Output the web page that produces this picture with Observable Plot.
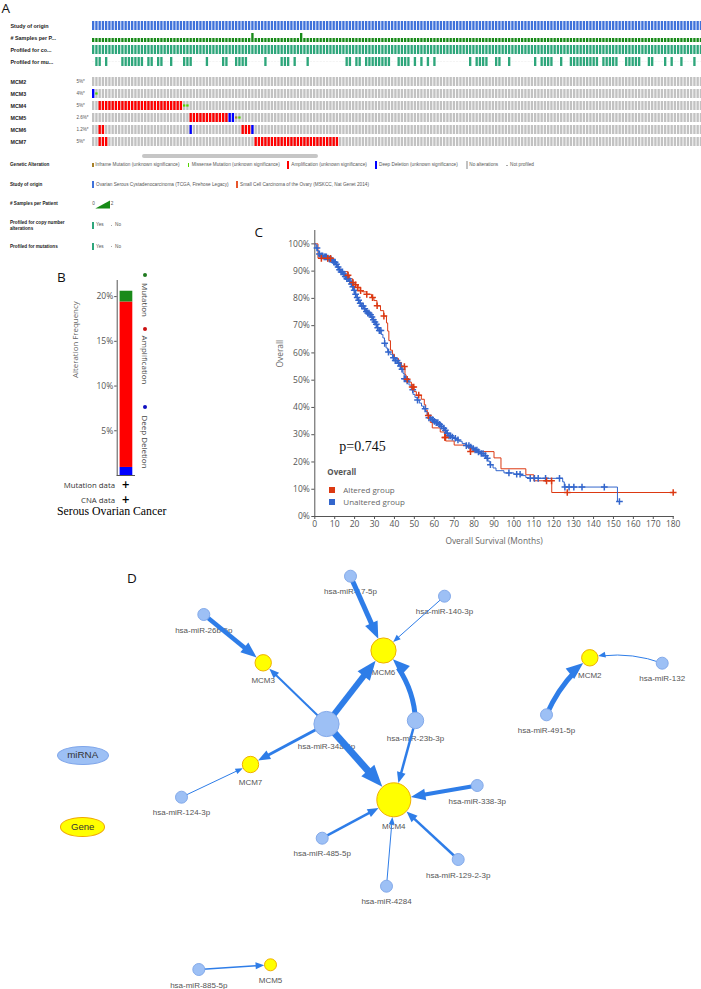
<!DOCTYPE html>
<html>
<head>
<meta charset="utf-8">
<script src="https://cdn.jsdelivr.net/npm/d3@7"></script>
<script src="https://cdn.jsdelivr.net/npm/@observablehq/plot@0.6"></script>
<style>
html,body{margin:0;padding:0;background:#fff;}
#fig{position:relative;width:701px;height:989px;overflow:hidden;background:#fff;}
#fig .pl{position:absolute;}
#fig .pl svg{display:block;max-width:none !important;}
</style>
</head>
<body>
<div id="fig"></div>
<script>
// ===================== DATA =====================
// Panel A – OncoPrint
const oncoTracks = ["Study of origin", "# Samples per P...", "Profiled for co...", "Profiled for mu..."];
const oncoGenes = ["MCM2", "MCM3", "MCM4", "MCM5", "MCM6", "MCM7"];
const oncoGenePct = ["5%*", "4%*", "5%*", "2.6%*", "1.2%*", "5%*"];
const visibleSamples = 188;
const twoSamplePatients = [49, 64];
const mutProfiledFrom = [1, 4, 9, 17, 20, 24, 28, 35, 40, 44, 53, 58, 62, 66, 78, 81, 84, 94, 99, 101, 103, 105, 116, 118, 124, 128, 136, 138, 144, 147, 157, 164, 171, 176, 178, 181, 185];
const mutProfiledTo   = [2, 4, 15, 18, 21, 24, 30, 35, 41, 47, 53, 60, 62, 66, 79, 82, 91, 97, 99, 101, 103, 105, 116, 121, 125, 128, 136, 141, 144, 155, 161, 168, 172, 176, 178, 181, 185];
const altGene = ["MCM3", "MCM3", "MCM4", "MCM4", "MCM5", "MCM5", "MCM5", "MCM5", "MCM6", "MCM6", "MCM6", "MCM6", "MCM7", "MCM7"];
const altType = ["Deep Deletion", "Missense Mutation", "Amplification", "Missense Mutation", "Amplification", "Deep Deletion", "Inframe Mutation", "Missense Mutation", "Amplification", "Deep Deletion", "Amplification", "Deep Deletion", "Amplification", "Amplification"];
const altFrom = [0, 1, 2, 28, 30, 42, 44, 45, 2, 30, 46, 49, 2, 50];
const altTo   = [0, 1, 27, 29, 41, 43, 44, 45, 3, 30, 48, 49, 4, 75];
const alterationLegend = ["Inframe Mutation (unknown significance)", "Missense Mutation (unknown significance)", "Amplification (unknown significance)", "Deep Deletion (unknown significance)", "No alterations", "Not profiled"];
const studyLegend = ["Ovarian Serous Cystadenocarcinoma (TCGA, Firehose Legacy)", "Small Cell Carcinoma of the Ovary (MSKCC, Nat Genet 2014)"];

// Panel B – alteration frequency
const cancerType = "Serous Ovarian Cancer";
const bAlterations = ["Deep Deletion", "Amplification", "Mutation"];
const bFrequency = [0.9, 18.5, 1.2];
const bTicks = [5, 10, 15, 20];

// Panel C – Kaplan–Meier (months, survival)
const kmXTicks = [0, 10, 20, 30, 40, 50, 60, 70, 80, 90, 100, 110, 120, 130, 140, 150, 160, 170, 180];
const kmYTicks = [0, 0.1, 0.2, 0.3, 0.4, 0.5, 0.6, 0.7, 0.8, 0.9, 1.0];
const alteredKM = [[0,1],[1.6,0.947],[8.7,0.938],[10,0.93],[11,0.918],[12,0.908],[12.9,0.898],[16.6,0.885],[17.5,0.872],[19,0.858],[20.3,0.85],[21.6,0.84],[22.8,0.828],[24,0.824],[26,0.815],[28.5,0.803],[29.7,0.792],[31.2,0.773],[33,0.755],[34.6,0.735],[36,0.71],[36.6,0.68],[37.2,0.645],[38,0.61],[39,0.595],[40,0.58],[42,0.565],[43.5,0.55],[45.3,0.52],[45.8,0.503],[47,0.493],[48.5,0.475],[49.8,0.458],[51,0.445],[53.5,0.43],[55,0.41],[55.7,0.39],[56.5,0.37],[58,0.345],[59,0.325],[63,0.31],[65.2,0.29],[65.7,0.277],[70,0.262],[76.5,0.255],[78,0.238],[90,0.215],[93.5,0.175],[106,0.153],[110,0.131],[119,0.088],[180,0.088]];
const unalteredKM = [[0,1],[0.6,0.985],[1.2,0.975],[2,0.963],[3,0.956],[4.5,0.952],[6,0.948],[7.2,0.944],[8.3,0.939],[9.3,0.933],[10.3,0.925],[11.2,0.915],[12,0.905],[13,0.897],[14,0.889],[15,0.88],[16,0.872],[17,0.863],[18,0.853],[18.8,0.843],[19.4,0.83],[20,0.815],[20.8,0.803],[21.7,0.793],[22.6,0.782],[23.5,0.772],[24.5,0.762],[25.4,0.752],[26.3,0.746],[27.3,0.74],[28.2,0.732],[29,0.722],[29.8,0.713],[30.6,0.705],[31.4,0.692],[32.3,0.682],[33.3,0.668],[34.2,0.655],[35,0.635],[35.8,0.618],[36.6,0.603],[37.8,0.595],[39,0.582],[40.3,0.572],[41.5,0.562],[42.6,0.552],[43.5,0.54],[44.3,0.525],[44.9,0.505],[46,0.497],[47.3,0.482],[48.5,0.465],[49.3,0.448],[50.3,0.437],[51.4,0.427],[52.5,0.416],[53.6,0.405],[54.6,0.395],[55.6,0.385],[56.4,0.372],[57.3,0.362],[58.4,0.355],[59.6,0.349],[60.8,0.344],[62,0.338],[63.3,0.331],[64.4,0.324],[65.3,0.316],[66.2,0.305],[67.3,0.296],[68.4,0.291],[69.6,0.287],[71,0.281],[72.5,0.276],[74,0.268],[75.8,0.26],[77.5,0.255],[79,0.249],[80.5,0.244],[82,0.237],[83.5,0.231],[85,0.223],[86,0.214],[87,0.203],[88,0.19],[89.5,0.178],[91,0.168],[95,0.16],[100,0.155],[103.5,0.15],[106,0.143],[107.5,0.14],[124.5,0.127],[125.3,0.108],[152,0.055],[153,0.055]];
const alteredCensor = [3.3, 6.5, 7.9, 16.7, 19.2, 20.5, 21.6, 23, 26.1, 29, 31.3, 34.7, 45, 46.4, 48.9, 49.7, 52.2, 57, 65.3, 65.6, 78.2, 116.4, 118.9, 126.8, 180];
const unalteredCensor = [1.1, 2.3, 3.2, 3.9, 4.7, 5.3, 5.8, 6.6, 7.4, 8.1, 8.9, 9.6, 10.2, 10.9, 11.7, 12.4, 13.2, 13.9, 14.6, 15.3, 16.1, 16.8, 17.6, 18.4, 19.1, 19.8, 20.5, 21.3, 22, 22.8, 23.6, 24.3, 25.1, 25.9, 26.6, 27.2, 28, 28.7, 29.4, 30.2, 30.9, 31.6, 32.4, 33.2, 35.1, 37, 39.5, 40.4, 41.3, 42.1, 43, 43.8, 45, 45.7, 46.4, 49.2, 51.6, 55.4, 57.3, 58.2, 59.2, 60.1, 61, 61.8, 62.7, 63.5, 64.8, 65.6, 66.5, 67.4, 68.2, 69.1, 70.6, 71.9, 76.1, 77.4, 78.3, 79.6, 80.5, 81.4, 82.2, 83.6, 84.5, 85.7, 86.6, 88.2, 97.5, 101.4, 103.1, 108.2, 110.3, 112.2, 115.9, 122.9, 125.6, 127.7, 130.1, 134.2, 145.4, 153];
const kmGroups = ["Altered group", "Unaltered group"];
const pValueText = "p=0.745";

// Panel D – miRNA–gene network
const netNodes = ["hsa-miR-26b-5p", "hsa-miR-17-5p", "hsa-miR-140-3p", "hsa-miR-34a-5p", "hsa-miR-23b-3p", "hsa-miR-124-3p", "hsa-miR-485-5p", "hsa-miR-338-3p", "hsa-miR-129-2-3p", "hsa-miR-4284", "hsa-miR-491-5p", "hsa-miR-132", "hsa-miR-885-5p", "MCM2", "MCM3", "MCM4", "MCM5", "MCM6", "MCM7"];
const netNodeType = ["miRNA", "miRNA", "miRNA", "miRNA", "miRNA", "miRNA", "miRNA", "miRNA", "miRNA", "miRNA", "miRNA", "miRNA", "miRNA", "Gene", "Gene", "Gene", "Gene", "Gene", "Gene"];
// layout coordinates of the network drawing
const netLayoutX = [203.3, 350, 444, 326, 415, 181, 321.7, 476.7, 457.7, 386, 546, 661.7, 198.3, 589.3, 262.7, 393.3, 270, 383, 250];
const netLayoutY = [54, 15.7, 35.7, 163.5, 160, 236.7, 277.7, 225, 299, 325.7, 154.3, 102.7, 409, 97.3, 102.3, 239.3, 404.3, 90, 204];
const edgeSource = ["hsa-miR-26b-5p", "hsa-miR-34a-5p", "hsa-miR-34a-5p", "hsa-miR-34a-5p", "hsa-miR-34a-5p", "hsa-miR-17-5p", "hsa-miR-140-3p", "hsa-miR-23b-3p", "hsa-miR-23b-3p", "hsa-miR-124-3p", "hsa-miR-485-5p", "hsa-miR-338-3p", "hsa-miR-129-2-3p", "hsa-miR-4284", "hsa-miR-491-5p", "hsa-miR-132", "hsa-miR-885-5p"];
const edgeTarget = ["MCM3", "MCM3", "MCM6", "MCM7", "MCM4", "MCM6", "MCM6", "MCM6", "MCM4", "MCM7", "MCM4", "MCM4", "MCM4", "MCM4", "MCM2", "MCM2", "MCM5"];
const edgeWeight = [4.5, 2, 6, 3, 7, 5, 1, 5, 2.5, 1, 2.5, 4, 2.5, 1, 5, 1, 1.5];
const edgeBend = [0, 0, 0, 0, 0, 0, 0, -22, 0, 0, 0, 0, 0, 0, 14, -16, 0];

// ===================== HELPERS =====================
const SANS = '"Liberation Sans", Arial, sans-serif';
const OPEN = '"Open Sans", "Liberation Sans", sans-serif';
const SERIF = '"Liberation Serif", "Times New Roman", serif';
const fig = document.getElementById("fig");

function place(node, left, top, width) {
  const d = document.createElement("div");
  d.className = "pl";
  d.style.left = left + "px";
  d.style.top = top + "px";
  if (width) d.style.width = width + "px";
  d.appendChild(node);
  fig.appendChild(d);
  return d;
}
function addText(s, x, y, o = {}) {
  const d = document.createElement("div");
  d.textContent = s;
  d.style.position = "absolute";
  d.style.left = x + "px";
  d.style.top = y + "px";
  d.style.fontSize = (o.size ?? 8) + "px";
  d.style.lineHeight = "1";
  d.style.whiteSpace = "nowrap";
  d.style.color = o.color ?? "#333";
  d.style.fontFamily = o.family ?? SANS;
  d.style.fontWeight = o.weight ?? "normal";
  const tx = o.anchor === "end" ? "-100%" : o.anchor === "middle" ? "-50%" : "0";
  d.style.transform = `translate(${tx},-50%)` + (o.rotate ? ` rotate(${o.rotate}deg)` : "");
  fig.appendChild(d);
  return d;
}
function addBox(x, y, w, h, color, o = {}) {
  const d = document.createElement("div");
  d.style.cssText = `position:absolute;left:${x}px;top:${y}px;width:${w}px;height:${h}px;background:${color};` + (o.radius ? `border-radius:${o.radius};` : "") + (o.border ? `border:${o.border};box-sizing:border-box;` : "");
  fig.appendChild(d);
  return d;
}

// ===================== PANEL A =====================
const colPitch = 3.25;
const cols = d3.range(visibleSamples);
const xCols = {type: "band", domain: cols, range: [92, 92 + colPitch * (visibleSamples - 0.28)], paddingInner: 0.28, paddingOuter: 0, axis: null};
const mutProfiled = new Set(mutProfiledFrom.flatMap((f, i) => d3.range(f, mutProfiledTo[i] + 1)));
const studyCells = cols.map(c => ({col: c, track: oncoTracks[0]}));
const sampleCells = cols.map(c => ({col: c, track: oncoTracks[1], n: twoSamplePatients.includes(c) ? 2 : 1}));
const cnaCells = cols.map(c => ({col: c, track: oncoTracks[2]}));
const mutCells = cols.map(c => ({col: c, track: oncoTracks[3], profiled: mutProfiled.has(c)}));
const STUDY = "#3f72da", SAMPLES = "#178a17", PROFILED = "#2ea67b";

const plotTracks = Plot.plot({
  width: 701, height: 72,
  marginLeft: 92, marginRight: 0, marginTop: 0, marginBottom: 0,
  x: xCols,
  y: {type: "band", domain: oncoTracks, range: [20, 68], paddingInner: 0.24, paddingOuter: 0, axis: null},
  style: {background: "none", fontFamily: SANS},
  marks: [
    Plot.cell(studyCells, {x: "col", y: "track", fill: STUDY}),
    Plot.cell(sampleCells.filter(d => d.n === 1), {x: "col", y: "track", fill: SAMPLES, insetTop: 5}),
    Plot.cell(sampleCells.filter(d => d.n === 2), {x: "col", y: "track", fill: SAMPLES}),
    Plot.cell(cnaCells, {x: "col", y: "track", fill: PROFILED}),
    Plot.cell(mutCells.filter(d => d.profiled), {x: "col", y: "track", fill: PROFILED}),
    Plot.cell(mutCells.filter(d => !d.profiled), {x: "col", y: "track", fill: "#c8c8c8", insetTop: 4.4, insetBottom: 4.4}),
    Plot.text(oncoTracks, {y: d => d, text: d => d, frameAnchor: "left", dx: -82, textAnchor: "start", fontWeight: "bold", fontSize: 5.4, fill: "#222"})
  ]
});
place(plotTracks, 0, 0, 701);

const geneBase = oncoGenes.flatMap(g => cols.map(c => ({gene: g, col: c})));
const altCells = altGene.flatMap((g, i) => d3.range(altFrom[i], altTo[i] + 1).map(c => ({gene: g, col: c, type: altType[i]})));
const ALT = {"Amplification": "#ff0000", "Deep Deletion": "#0000ff", "Missense Mutation": "#53d400", "Inframe Mutation": "#a68028"};
const fullAlt = altCells.filter(d => d.type === "Amplification" || d.type === "Deep Deletion");
const smallAlt = altCells.filter(d => d.type !== "Amplification" && d.type !== "Deep Deletion");

const plotGenes = Plot.plot({
  width: 701, height: 152,
  marginLeft: 92, marginRight: 0, marginTop: 0, marginBottom: 0,
  x: xCols,
  y: {type: "band", domain: oncoGenes, range: [75, 149], paddingInner: 0.22, paddingOuter: 0, axis: null},
  style: {background: "none", fontFamily: SANS},
  marks: [
    Plot.cell(geneBase, {x: "col", y: "gene", fill: "#c2c2c2"}),
    Plot.cell(fullAlt, {x: "col", y: "gene", fill: d => ALT[d.type]}),
    Plot.cell(smallAlt, {x: "col", y: "gene", fill: d => ALT[d.type], insetTop: 3.4, insetBottom: 3.4}),
    Plot.text(oncoGenes, {y: d => d, text: d => d, frameAnchor: "left", dx: -82, textAnchor: "start", fontWeight: "bold", fontSize: 5.3, fill: "#222"}),
    Plot.text(oncoGenes, {y: d => d, text: (d, i) => oncoGenePct[i], frameAnchor: "left", dx: -16, textAnchor: "start", fontSize: 4.5, fill: "#555"})
  ]
});
place(plotGenes, 0, 0, 701);

// scrollbar
addBox(142, 154, 176, 3.6, "#c6c6c6", {radius: "2px"});

// panel A legend
const LS = 4.7, LC = "#555";
addText("Genetic Alteration", 10, 165, {size: 4.6, weight: "bold", color: "#222"});
addBox(92, 163, 1.6, 4.2, ALT["Inframe Mutation"]);
addText(alterationLegend[0], 95.3, 165, {size: LS, color: LC});
addBox(187.7, 163, 1.6, 4.2, ALT["Missense Mutation"]);
addText(alterationLegend[1], 191.7, 165, {size: LS, color: LC});
addBox(287.3, 161.2, 2, 7.6, ALT["Amplification"]);
addText(alterationLegend[2], 291.3, 165, {size: LS, color: LC});
addBox(375, 161.2, 2, 7.6, ALT["Deep Deletion"]);
addText(alterationLegend[3], 379, 165, {size: LS, color: LC});
addBox(465.7, 161.2, 2, 7.6, "#c2c2c2");
addText(alterationLegend[4], 469.3, 165, {size: LS, color: LC});
addBox(505.5, 164.6, 2, 0.8, "#aaa");
addText(alterationLegend[5], 510, 165, {size: LS, color: LC});

addText("Study of origin", 10, 184.5, {size: 4.6, weight: "bold", color: "#222"});
addBox(92, 181, 2, 7, STUDY);
addText(studyLegend[0], 96, 184.5, {size: LS, color: LC});
addBox(236, 181, 2, 7, "#e8552c");
addText(studyLegend[1], 240, 184.5, {size: LS, color: LC});

addText("# Samples per Patient", 10, 204, {size: 4.6, weight: "bold", color: "#222"});
addText("0", 92.3, 203.5, {size: LS, color: LC});
{
  const s = d3.create("svg").attr("width", 16).attr("height", 10).style("position", "absolute").style("left", "94.5px").style("top", "199.5px");
  s.append("path").attr("d", "M0.3,8.6L15,8.6L15,0.5Z").attr("fill", SAMPLES);
  fig.appendChild(s.node());
}
addText("2", 110.8, 203.5, {size: LS, color: LC});

addText("Profiled for copy number", 10, 222.7, {size: 4.6, weight: "bold", color: "#222"});
addText("alterations", 10, 228.7, {size: 4.6, weight: "bold", color: "#222"});
addBox(92, 221.5, 2, 7, PROFILED);
addText("Yes", 96, 224.8, {size: LS, color: LC});
addBox(110.8, 224.5, 1.6, 0.8, "#aaa");
addText("No", 115, 224.8, {size: LS, color: LC});

addText("Profiled for mutations", 10, 246.7, {size: 4.6, weight: "bold", color: "#222"});
addBox(92, 243.3, 2, 7, PROFILED);
addText("Yes", 96, 246.7, {size: LS, color: LC});
addBox(110.8, 246.4, 1.6, 0.8, "#aaa");
addText("No", 115, 246.7, {size: LS, color: LC});

addText("A", 1.5, 8.5, {size: 13.5, family: OPEN, color: "#111"});

// ===================== PANEL B =====================
const bData = bAlterations.map((t, i) => ({cancer: cancerType, type: t, freq: bFrequency[i]}));
const bColors = ["#0000ff", "#ff0000", "#1a8a1a"];
const plotB = Plot.plot({
  width: 180, height: 270,
  marginLeft: 116.7, marginRight: 45, marginTop: 20, marginBottom: 55,
  x: {type: "band", domain: [cancerType], paddingInner: 0, paddingOuter: 0, axis: null},
  y: {domain: [0, 21.8], ticks: bTicks, tickFormat: d => d + "%", tickSize: 2.5, tickPadding: 1.5, line: true, label: null},
  color: {domain: bAlterations, range: bColors},
  style: {background: "none", fontFamily: OPEN, fontSize: "8.5px", color: "#555"},
  marks: [
    Plot.barY(bData, {x: "cancer", y: "freq", fill: "type", insetLeft: 2.6, insetRight: 2.7}),
    Plot.ruleY([0], {stroke: "#555"}),
    Plot.text(["Alteration Frequency"], {frameAnchor: "left", rotate: -90, dx: -41.7, fontSize: 7.9, fill: "#666", fontFamily: OPEN})
  ]
});
place(plotB, 0, 260, 180);

addText("B", 57, 278, {size: 13.5, family: OPEN, color: "#111"});
const bLegendY = [275, 329.3, 406.7];
const bLegendTextY = [300, 360, 441.5];
const bLegendOrder = ["Mutation", "Amplification", "Deep Deletion"];
const bLegendDot = ["#1f7a1f", "#cc1010", "#1010c0"];
bLegendOrder.forEach((t, i) => {
  addBox(143.3, bLegendY[i] - 2, 4, 4, bLegendDot[i], {radius: "50%"});
  addText(t, 145.3, bLegendTextY[i], {size: 8, family: OPEN, color: "#444", anchor: "middle", rotate: 90});
});
addText("Mutation data", 115, 485.7, {size: 7.8, family: OPEN, color: "#333", anchor: "end"});
addText("CNA data", 115, 500.7, {size: 7.8, family: OPEN, color: "#333", anchor: "end"});
addText("+", 125.8, 485.2, {size: 10, family: '"DejaVu Sans", sans-serif', weight: "bold", color: "#000", anchor: "middle"});
addText("+", 125.8, 500.2, {size: 10, family: '"DejaVu Sans", sans-serif', weight: "bold", color: "#000", anchor: "middle"});
addText(cancerType, 57, 512, {size: 11.8, family: SERIF, color: "#000"});

// ===================== PANEL C =====================
const bisect = d3.bisector(d => d[0]).right;
const survAt = (km, t) => km[Math.max(0, bisect(km, t) - 1)][1];
const RED = "#dc3912", BLUE = "#3366cc";
const alteredMarks = alteredCensor.map(t => [t, survAt(alteredKM, t)]);
const unalteredMarks = unalteredCensor.map(t => [t, survAt(unalteredKM, t)]);
const plotC = Plot.plot({
  width: 451, height: 330,
  marginLeft: 64.3, marginRight: 28.3, marginTop: 5, marginBottom: 39,
  x: {domain: [0, 180], ticks: kmXTicks, tickSize: 3, tickPadding: 1.5, line: true, label: null},
  y: {domain: [0, 1.049], ticks: kmYTicks, tickFormat: d3.format(".0%"), tickSize: 3, tickPadding: 2, line: true, label: null},
  style: {background: "none", fontFamily: OPEN, fontSize: "8.5px", color: "#555"},
  marks: [
    Plot.line(alteredKM, {x: d => d[0], y: d => d[1], curve: "step-after", stroke: RED, strokeWidth: 1}),
    Plot.line(unalteredKM, {x: d => d[0], y: d => d[1], curve: "step-after", stroke: BLUE, strokeWidth: 1}),
    Plot.dot(unalteredMarks, {x: d => d[0], y: d => d[1], symbol: "plus", r: 2.3, stroke: BLUE, strokeWidth: 1.5}),
    Plot.dot(alteredMarks, {x: d => d[0], y: d => d[1], symbol: "plus", r: 2.3, stroke: RED, strokeWidth: 1.5}),
    Plot.text(["Overall Survival (Months)"], {frameAnchor: "bottom", dy: 27.3, fontSize: 8.4, fill: "#666", fontFamily: OPEN}),
    Plot.text(["Overall"], {frameAnchor: "left", rotate: -90, dx: -34.3, dy: -6, fontSize: 8.4, fill: "#666", fontFamily: OPEN})
  ]
});
place(plotC, 250, 225, 451);

addText("C", 254.5, 233, {size: 13.5, family: OPEN, color: "#111"});
addText(pValueText, 339.3, 447.3, {size: 14, family: SERIF, color: "#111"});
addText("Overall", 327.3, 471.7, {size: 8, family: OPEN, weight: "bold", color: "#555"});
addBox(329.3, 487, 6, 6, RED);
addBox(329.3, 499.3, 6, 6, BLUE);
addText(kmGroups[0], 343.3, 490, {size: 8, family: OPEN, color: "#666"});
addText(kmGroups[1], 343.3, 502.3, {size: 8, family: OPEN, color: "#666"});

// ===================== PANEL D =====================
const EDGE = "#2e7de8";
const nodeRadius = d3.scaleLinear([1, 6], [6, 17]);
const idx = new Map(netNodes.map((n, i) => [n, i]));
const degree = netNodes.map(n => edgeSource.filter(s => s === n).length + edgeTarget.filter(t => t === n).length);
const nodeData = netNodes.map((n, i) => ({name: n, type: netNodeType[i], x: netLayoutX[i], y: netLayoutY[i], degree: degree[i], r: nodeRadius(degree[i])}));
const edges = edgeSource.map((s, i) => {
  const a = nodeData[idx.get(s)], b = nodeData[idx.get(edgeTarget[i])];
  const w = edgeWeight[i], bend = edgeBend[i];
  const head = 5 + 2.4 * w;
  const ang = Math.atan2(b.y - a.y, b.x - a.x) + bend * Math.PI / 180;
  const c = Math.cos(ang), sn = Math.sin(ang);
  return {
    x1: a.x, y1: a.y, x2: b.x, y2: b.y, w, bend, head, rT: b.r,
    ex: b.x - c * (b.r + head * 0.6), ey: b.y - sn * (b.r + head * 0.6),
    tx: b.x - c * (b.r + 0.3), ty: b.y - sn * (b.r + 0.3),
    rot: ang * 180 / Math.PI + 90
  };
});
const headShape = {
  draw(ctx, l) {
    ctx.moveTo(0, -l);
    ctx.lineTo(-0.4 * l, 0);
    ctx.lineTo(0.4 * l, 0);
    ctx.closePath();
  }
};
const plotD = Plot.plot({
  width: 701, height: 429, margin: 0,
  x: {domain: [0, 701], range: [0, 701], axis: null},
  y: {domain: [0, 429], range: [0, 429], axis: null},
  r: {type: "linear", domain: [1, 6], range: [6, 17]},
  length: {type: "linear", domain: [0, 40], range: [0, 40]},
  style: {background: "none"},
  marks: [
    Plot.text(nodeData, {x: "x", y: d => d.y + d.r + 9.5, text: "name", fontSize: 8, fill: "#555", fontFamily: SANS}),
    Plot.link(edges.filter(e => !e.bend), {x1: "x1", y1: "y1", x2: "ex", y2: "ey", strokeWidth: "w", stroke: EDGE, strokeLinecap: "butt"}),
    ...edges.filter(e => e.bend).map(e => Plot.arrow([e], {x1: "x1", y1: "y1", x2: "x2", y2: "y2", bend: e.bend, strokeWidth: e.w, stroke: EDGE, headLength: 0, insetEnd: e.rT + e.head * 0.6, strokeLinecap: "butt"})),
    Plot.vector(edges, {x: "tx", y: "ty", rotate: "rot", length: "head", anchor: "end", shape: headShape, fill: EDGE, stroke: "none"}),
    Plot.dot(nodeData, {x: "x", y: "y", r: "degree", fill: d => d.type === "Gene" ? "#ffff00" : "#9dc0f5", stroke: d => d.type === "Gene" ? "#f0b000" : "#84aaea", strokeWidth: 1})
  ]
});
place(plotD, 0, 560, 701);

addText("D", 127, 578.5, {size: 13.5, family: OPEN, color: "#111"});
addBox(56.7, 745.5, 52, 19.5, "#9dc0f5", {radius: "50%", border: "1px solid #7fa6ea"});
addText("miRNA", 82.7, 755.3, {size: 9.8, family: SANS, color: "#333", anchor: "middle"});
addBox(60.2, 817.2, 45, 19.5, "#ffff00", {radius: "50%", border: "1px solid #f0a800"});
addText("Gene", 82.7, 827, {size: 9.6, family: SANS, color: "#333", anchor: "middle"});
</script>
</body>
</html>
